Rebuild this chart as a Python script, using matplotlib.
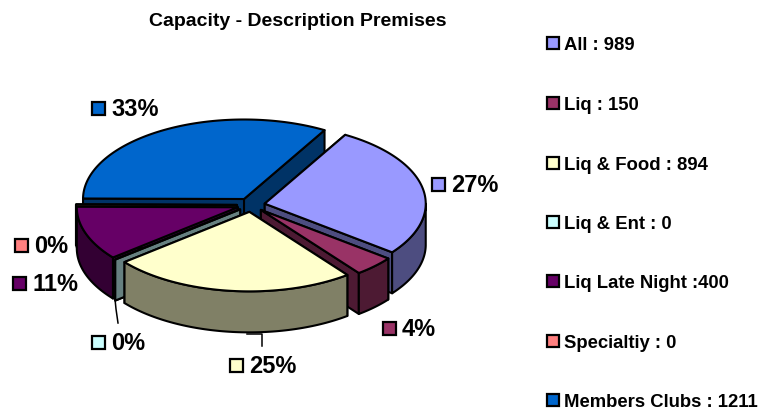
import numpy as np
import matplotlib.pyplot as plt
from matplotlib.patches import Polygon, Rectangle

plt.rcParams['font.family'] = ['Liberation Sans', 'DejaVu Sans']

names  = ['All', 'Liq', 'Liq & Food', 'Liq & Ent', 'Liq Late Night', 'Specialtiy', 'Members Clubs']
values = [989, 150, 894, 0, 400, 0, 1211]
legend_text = ['All : 989', 'Liq : 150', 'Liq & Food : 894', 'Liq & Ent : 0',
               'Liq Late Night :400', 'Specialtiy : 0', 'Members Clubs : 1211']
pct_text = ['27%', '4%', '25%', '0%', '11%', '0%', '33%']
top_col  = ['#9999FF', '#993366', '#FFFFCC', '#CCFFFF', '#660066', '#FF8080', '#0066CC']
side_col = ['#4D4D80', '#4D1A33', '#808066', '#668080', '#330033', '#804040', '#003366']

# pie geometry, in pixels
cx, cy = 251, 206
rx, ry = 161, 79.5
depth  = 41
expl   = 14
start  = 30    # degrees clockwise from north
lw     = 1.5

# where the percent labels go (key left, key centre y)
pct_pos = [(432, 185), (383, 329), (230, 366), (92, 343), (13, 284), (15, 246), (92, 109)]
leg_y   = [44, 104, 164, 223, 282, 342, 401]


def pt(x0, y0, ang, r=1.0):
    a = np.radians(90 - ang)
    return x0 + rx * r * np.cos(a), y0 - ry * r * np.sin(a)


def draw_slice(ax, a0, a1, top, side, z):
    mid = (a0 + a1) / 2
    x0, y0 = pt(cx, cy, mid, expl / rx)
    # radial walls
    for a in (a0, a1):
        xr, yr = pt(x0, y0, a)
        ax.add_patch(Polygon([(x0, y0), (xr, yr), (xr, yr + depth), (x0, y0 + depth)],
                             fc=side, ec='black', lw=lw, joinstyle='round', zorder=z))
    # outer wall, only the part that faces the viewer
    lo, hi = max(a0, 90), min(a1, 270)
    if hi > lo:
        angs = np.linspace(lo, hi, 80)
        xs, ys = pt(x0, y0, angs)
        xy = list(zip(xs, ys)) + list(zip(xs[::-1], ys[::-1] + depth))
        ax.add_patch(Polygon(xy, fc=side, ec='black', lw=lw, joinstyle='round', zorder=z))
    # top face
    angs = np.linspace(a0, a1, 120)
    xs, ys = pt(x0, y0, angs)
    xy = [(x0, y0)] + list(zip(xs, ys))
    ax.add_patch(Polygon(xy, fc=top, ec='black', lw=lw, joinstyle='round', zorder=z))


fig = plt.figure(figsize=(7.6, 4.1), dpi=100)
ax = fig.add_axes([0, 0, 1, 1])
ax.set_xlim(0, 760)
ax.set_ylim(410, 0)
ax.axis('off')

total = sum(values)
edges = start + np.concatenate([[0], np.cumsum(values)]) / total * 360

# back to front
order = [6, 5, 4, 0, 1, 3, 2]
for z, i in enumerate(order):
    draw_slice(ax, edges[i], edges[i + 1], top_col[i], side_col[i], 2 + z)

# leader lines
ax.plot([115, 116, 118], [300, 310, 324], color='black', lw=1.1, zorder=1)
ax.plot([247, 262, 262], [335, 335, 347], color='black', lw=1.1, zorder=1)

ax.text(297.5, 21.5, 'Capacity - Description Premises', ha='center', va='center',
        fontsize=14, fontweight='bold')

for i in range(len(names)):
    kx, ky = pct_pos[i]
    ax.add_patch(Rectangle((kx, ky - 6.5), 13, 13, fc=top_col[i], ec='black', lw=1.6, zorder=20))
    ax.text(kx + 19, ky + 1, pct_text[i], ha='left', va='center', fontsize=17,
            fontweight='bold', zorder=20)

    ax.add_patch(Rectangle((546.5, leg_y[i] - 6), 12, 12, fc=top_col[i], ec='black', lw=1.6, zorder=20))
    ax.text(563.5, leg_y[i] + 1.5, legend_text[i], ha='left', va='center', fontsize=13.3,
            fontweight='bold', zorder=20)

fig.savefig('out.png', dpi=100)
